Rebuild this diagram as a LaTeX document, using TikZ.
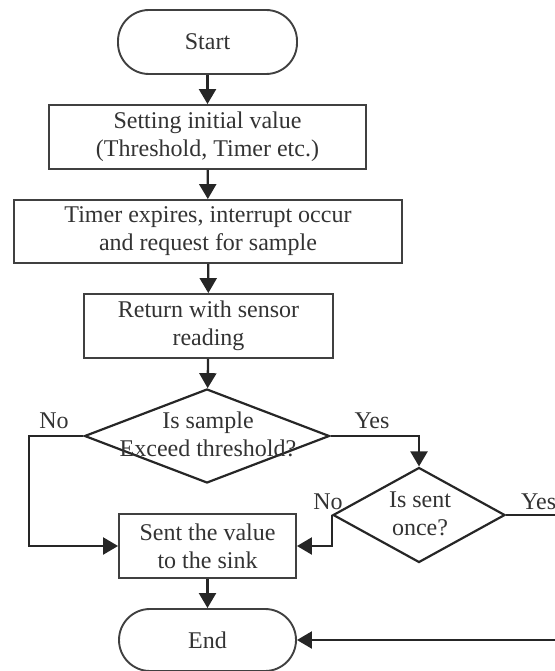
\documentclass[tikz,border=0pt]{standalone}
\usepackage{fontspec}
\setmainfont{Liberation Serif}
\usetikzlibrary{shapes.geometric,arrows.meta}
\begin{document}
\begin{tikzpicture}[x=1pt,y=-1pt,
  every node/.style={font=\fontsize{24}{28}\selectfont, text=black!80},
  box/.style={draw=black!75, line width=1.9pt, rectangle, inner sep=0pt, align=center},
  term/.style={draw=black!75, line width=1.9pt, rectangle, rounded corners=31pt, inner sep=0pt, align=center},
  dia/.style={draw=black!85, line width=2.2pt, diamond, inner sep=0pt},
  lbl/.style={inner sep=0pt, align=center},
  conn/.style={draw=black!85, line width=2.3pt, -{Triangle[length=15pt,width=17pt]}},
  plain/.style={draw=black!85, line width=2.3pt}
]
\useasboundingbox (0,0) rectangle (554,671);
\node[term, minimum width=179pt, minimum height=64pt] (start) at (207.5,42) {Start};
\node[box, minimum width=317pt, minimum height=64pt] (b1) at (207.5,137) {Setting initial value\\(Threshold, Timer etc.)};
\node[box, minimum width=388pt, minimum height=63pt] (b2) at (208,231.5) {Timer expires, interrupt occur\\and request for sample};
\node[box, minimum width=249pt, minimum height=64pt] (b3) at (208.5,326) {Return with sensor\\reading};
\node[dia, minimum width=245pt, minimum height=94pt] (d1) at (207,436) {};
\node[lbl] (d1t) at (208,434) {Is sample\\Exceed threshold?};
\node[dia, minimum width=172pt, minimum height=95pt] (d2) at (419,515) {};
\node[lbl] (d2t) at (420,514) {Is sent\\once?};
\node[box, minimum width=177pt, minimum height=64pt] (sent) at (207.5,546) {Sent the value\\to the sink};
\node[term, minimum width=177pt, minimum height=62pt] (end) at (207.5,640) {End};

\node[lbl] (no1) at (54,421) {No};
\node[lbl] (yes1) at (372,421) {Yes};
\node[lbl] (no2) at (328,502) {No};
\node[lbl, anchor=west] (yes2) at (521,502) {Yes};

\coordinate (c1) at (29,436);
\coordinate (c2) at (580,515);

\draw[conn] (start) -- (b1);
\draw[conn] (b1) -- (b2);
\draw[conn] (b2) -- (b3);
\draw[conn] (b3) -- (d1);
\draw[conn] (d1.east) -| (d2.north);
\draw[conn] (d1.west) -- (c1) |- (sent.west);
\draw[conn] (d2.west) |- (sent.east);
\draw[conn] (sent) -- (end);
\draw[conn] (d2.east) -- (c2) |- (end.east);
\end{tikzpicture}
\end{document}
